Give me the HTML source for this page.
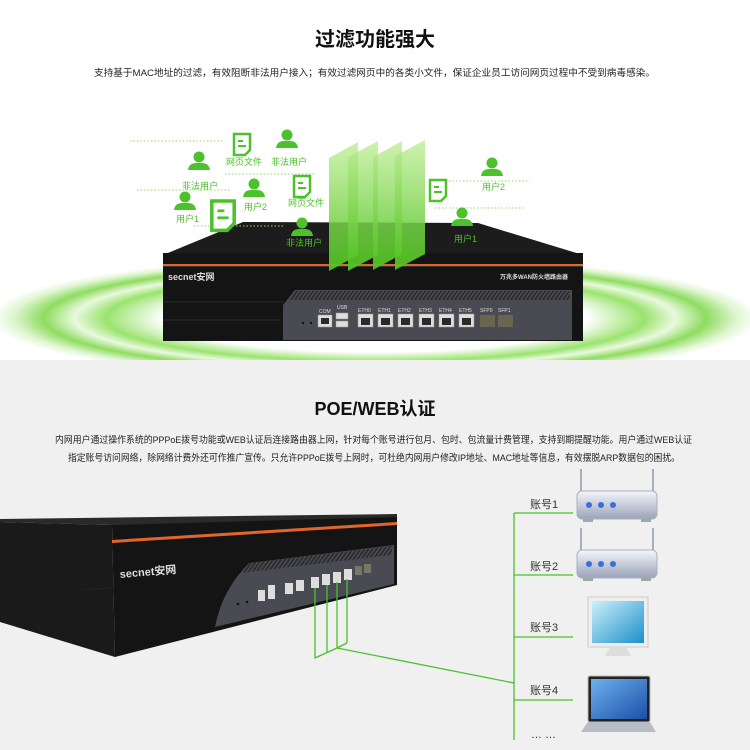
<!DOCTYPE html>
<html><head><meta charset="utf-8"><style>
html,body{margin:0;padding:0;width:750px;height:750px;overflow:hidden;background:#fff}
svg{display:block}
text{font-family:"Liberation Sans","Noto Sans CJK SC",sans-serif}
</style></head><body>
<svg width="750" height="750" viewBox="0 0 750 750" xmlns="http://www.w3.org/2000/svg">
<defs>
<radialGradient id="ring" cx="50%" cy="50%" r="50%">
<stop offset="0" stop-color="#fff"/>
<stop offset="0.55" stop-color="#fff"/>
<stop offset="0.7" stop-color="#9be36f"/>
<stop offset="0.78" stop-color="#e9f9de"/>
<stop offset="0.86" stop-color="#8fdc60"/>
<stop offset="0.94" stop-color="#dff6d0"/>
<stop offset="1" stop-color="#fff"/>
</radialGradient>
<linearGradient id="pane" x1="0" y1="0" x2="0" y2="1">
<stop offset="0" stop-color="#b8ec8c" stop-opacity="0.7"/>
<stop offset="1" stop-color="#4fc21f" stop-opacity="0.95"/>
</linearGradient>
<linearGradient id="rt" x1="0" y1="0" x2="0" y2="1">
<stop offset="0" stop-color="#f4f6fb"/><stop offset="1" stop-color="#9aa3b8"/>
</linearGradient>
<linearGradient id="scr" x1="0" y1="0" x2="1" y2="1">
<stop offset="0" stop-color="#cdf0fb"/><stop offset="1" stop-color="#1d8fc9"/>
</linearGradient>
<linearGradient id="lap" x1="0" y1="0" x2="1" y2="1">
<stop offset="0" stop-color="#6fb1ee"/><stop offset="1" stop-color="#1b4fa8"/>
</linearGradient>
<pattern id="vent" width="4" height="10" patternUnits="userSpaceOnUse" patternTransform="skewX(-35)">
<rect width="2" height="10" fill="#222"/>
</pattern>
<g id="user"><circle cx="0" cy="-7" r="5.5" fill="#4cc12b"/><path d="M-11 6 Q-10 -1 -3 -1 L3 -1 Q10 -1 11 6 Z" fill="#4cc12b"/></g>
<g id="doc"><path d="M-8 -10 H8 V6 L3 11 H-8 Z" fill="#fff" stroke="#4cc12b" stroke-width="2.5"/><rect x="-4" y="-4" width="5" height="2" fill="#4cc12b"/><rect x="-4" y="1" width="8" height="2" fill="#4cc12b"/></g>
<g id="router"><line x1="4" y1="-22" x2="4" y2="0" stroke="#a6adbd" stroke-width="2"/><line x1="76" y1="-22" x2="76" y2="0" stroke="#a6adbd" stroke-width="2"/><rect x="0" y="0" width="80" height="28" rx="5" fill="url(#rt)" stroke="#aab0c0"/><circle cx="12" cy="14" r="3" fill="#3b6fd8"/><circle cx="24" cy="14" r="3" fill="#3b6fd8"/><circle cx="36" cy="14" r="3" fill="#3b6fd8"/><rect x="6" y="28" width="10" height="3" fill="#9aa"/><rect x="64" y="28" width="10" height="3" fill="#9aa"/></g>
</defs>

<!-- top section -->
<rect width="750" height="360" fill="#fff"/>
<text x="375" y="46" font-size="20" font-weight="bold" text-anchor="middle" fill="#111">过滤功能强大</text>
<text x="94" y="76" font-size="9.5" fill="#222" textLength="561" lengthAdjust="spacingAndGlyphs">支持基于MAC地址的过滤，有效阻断非法用户接入；有效过滤网页中的各类小文件，保证企业员工访问网页过程中不受到病毒感染。</text>

<ellipse cx="375" cy="318" rx="385" ry="62" fill="url(#ring)"/>

<!-- device top -->
<polygon points="163,255 243,222 478,223 583,255" fill="#1c1c1c"/>
<rect x="163" y="253" width="420" height="88" fill="#141414"/>
<rect x="163" y="264" width="420" height="2" fill="#e2662a"/>
<rect x="163" y="266" width="420" height="1" fill="#333"/>
<text x="168" y="280" font-size="9" font-weight="bold" fill="#ddd">secnet安网</text>
<text x="500" y="279" font-size="6" font-weight="bold" fill="#ddd">万兆多WAN防火墙路由器</text>
<line x1="163" y1="302" x2="283" y2="302" stroke="#2a2a2a"/>
<line x1="163" y1="320" x2="280" y2="320" stroke="#2a2a2a"/>
<polygon points="295,290 572,290 572,340 283,340 283,305" fill="#4a4b52"/>
<polygon points="295,291 570,291 570,300 288,300" fill="url(#vent)" opacity="0.8"/>
<g font-size="5" fill="#ddd">
<text x="319" y="313">COM</text><text x="337" y="309">USB</text>
<text x="358" y="312">ETH0</text><text x="378" y="312">ETH1</text><text x="398" y="312">ETH2</text><text x="419" y="312">ETH3</text><text x="439" y="312">ETH4</text><text x="459" y="312">ETH5</text><text x="480" y="312">SFP0</text><text x="498" y="312">SFP1</text>
</g>
<circle cx="303" cy="323" r="1.2" fill="#111"/><circle cx="311" cy="323" r="1.2" fill="#111"/>
<g fill="#ddd" stroke="#999" stroke-width="0.5">
<rect x="318" y="315" width="14" height="12"/>
<rect x="336" y="313" width="12" height="6"/><rect x="336" y="321" width="12" height="6"/>
<rect x="358" y="314" width="15" height="13"/><rect x="378" y="314" width="15" height="13"/><rect x="398" y="314" width="15" height="13"/><rect x="419" y="314" width="15" height="13"/><rect x="439" y="314" width="15" height="13"/><rect x="459" y="314" width="15" height="13"/>
</g>
<g fill="#2a2a2a"><rect x="361" y="318" width="9" height="7"/><rect x="381" y="318" width="9" height="7"/><rect x="401" y="318" width="9" height="7"/><rect x="422" y="318" width="9" height="7"/><rect x="442" y="318" width="9" height="7"/><rect x="462" y="318" width="9" height="7"/><rect x="321" y="318" width="8" height="6"/>
<rect x="480" y="315" width="15" height="12" fill="#6b6450"/><rect x="498" y="315" width="15" height="12" fill="#6b6450"/></g>

<!-- dotted lines -->
<g stroke="#8fdc60" stroke-width="1" stroke-dasharray="1.5 2" fill="none">
<line x1="130" y1="141" x2="222" y2="141"/>
<line x1="225" y1="174" x2="315" y2="174"/>
<line x1="137" y1="190" x2="230" y2="190"/>
<line x1="194" y1="226" x2="285" y2="226"/>
<line x1="435" y1="181" x2="530" y2="181"/>
<line x1="435" y1="208" x2="525" y2="208"/>
</g>
<g font-size="9" fill="#4cc12b">
<use href="#user" x="199" y="164"/><text x="182" y="189">非法用户</text>
<use href="#user" x="185" y="204"/><text x="176" y="222">用户1</text>
<use href="#user" x="254" y="191"/><text x="244" y="210">用户2</text>
<use href="#doc" x="242" y="144"/><text x="226" y="165">网页文件</text>
<use href="#user" x="287" y="142"/><text x="271" y="165">非法用户</text>
<use href="#doc" x="302" y="186"/><text x="288" y="206">网页文件</text>
<use href="#doc" x="223" y="215" transform="translate(223 215) scale(1.4) translate(-223 -215)"/>
<use href="#user" x="302" y="230"/><text x="286" y="246">非法用户</text>
<use href="#doc" x="438" y="190"/>
<use href="#user" x="492" y="170"/><text x="482" y="190">用户2</text>
<use href="#user" x="462" y="220"/><text x="454" y="242">用户1</text>
</g>

<!-- green panes -->
<g fill="url(#pane)">
<polygon points="329,158 358,142 358,255 329,271"/>
<polygon points="348,157 378,141 378,255 348,271"/>
<polygon points="373,157 402,141 402,254 373,270"/>
<polygon points="395,156 425,140 425,254 395,270"/>
</g>

<!-- bottom section -->
<rect y="360" width="750" height="390" fill="#f0f0f0"/>
<text x="375" y="415" font-size="18" font-weight="bold" text-anchor="middle" fill="#111">POE/WEB认证</text>
<text x="55" y="443" font-size="9.5" fill="#222" textLength="637" lengthAdjust="spacingAndGlyphs">内网用户通过操作系统的PPPoE拨号功能或WEB认证后连接路由器上网，针对每个账号进行包月、包时、包流量计费管理，支持到期提醒功能。用户通过WEB认证</text>
<text x="68" y="461" font-size="9.5" fill="#222" textLength="612" lengthAdjust="spacingAndGlyphs">指定账号访问网络，除网络计费外还可作推广宣传。只允许PPPoE拨号上网时，可杜绝内网用户修改IP地址、MAC地址等信息，有效摆脱ARP数据包的困扰。</text>

<!-- big device -->
<polygon points="0,519 397,514 397,523 112,525 0,522" fill="#2a2a2a"/>
<polygon points="0,522 112,525 115,657 0,622" fill="#1a1a1a"/>
<polygon points="112,525 397,517 397,585 115,657" fill="#141414"/>
<polygon points="112,540 397,522 397,525 112,543" fill="#e2662a"/>
<text x="120" y="578" font-size="11" font-weight="bold" fill="#ddd" transform="rotate(-5 120 578)">secnet安网</text>
<path d="M249,563 L394,545 L394,584 L215,627 Q222,590 249,563 Z" fill="#4a4b52"/>
<polygon points="249,563 392,546 392,555 240,573" fill="url(#vent)" opacity="0.8"/>
<g fill="#ddd"><rect x="258" y="590" width="7" height="11"/><rect x="268" y="585" width="7" height="14"/><rect x="285" y="583" width="8" height="11"/><rect x="296" y="580" width="8" height="11"/><rect x="311" y="577" width="8" height="11"/><rect x="322" y="574" width="8" height="11"/><rect x="333" y="572" width="8" height="11"/><rect x="344" y="569" width="8" height="11"/><rect x="355" y="566" width="7" height="9" fill="#776"/><rect x="364" y="564" width="7" height="9" fill="#776"/></g>
<g fill="#111"><circle cx="238" cy="604" r="1.3"/><circle cx="247" cy="602" r="1.3"/></g>
<line x1="78" y1="590" x2="112" y2="588" stroke="#222"/>

<!-- lines -->
<g stroke="#4cc12b" stroke-width="1.3" fill="none">
<polyline points="315,588 315,658 337,648 347,643"/>
<line x1="327" y1="585" x2="327" y2="652"/>
<line x1="337" y1="582" x2="337" y2="648"/>
<line x1="347" y1="579" x2="347" y2="643"/>
<line x1="337" y1="648" x2="514" y2="683"/>
<line x1="514" y1="513" x2="514" y2="740"/>
<line x1="514" y1="513" x2="573" y2="513"/>
<line x1="514" y1="575" x2="573" y2="575"/>
<line x1="514" y1="637" x2="573" y2="637"/>
<line x1="514" y1="700" x2="573" y2="700"/>
</g>
<g font-size="11" fill="#333">
<text x="530" y="508">账号1</text><text x="530" y="570">账号2</text><text x="530" y="631">账号3</text><text x="530" y="694">账号4</text><text x="531" y="738">… …</text>
</g>

<use href="#router" x="577" y="491"/>
<use href="#router" x="577" y="550"/>
<!-- monitor -->
<rect x="588" y="597" width="60" height="50" fill="#eee" stroke="#ccc"/>
<rect x="592" y="601" width="52" height="42" fill="url(#scr)"/>
<polygon points="610,647 626,647 631,656 605,656" fill="#ddd"/>
<!-- laptop -->
<rect x="588" y="676" width="62" height="46" rx="2" fill="#222" stroke="#bbb"/>
<rect x="591" y="679" width="56" height="40" fill="url(#lap)"/>
<polygon points="588,722 650,722 656,732 581,732" fill="#b8bcc4"/>
</svg>
</body></html>
